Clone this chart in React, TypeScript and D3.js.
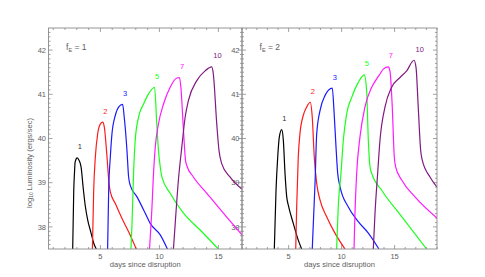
import React from "react";
import * as d3 from "d3";

type Pt = [number, number];

// panel f_E = 1 : [days since disruption, log10 L]
const fe1Curve1: Pt[] = [[2.65, 37.5], [2.74, 38.83], [2.8, 39.21], [2.86, 39.47], [3.03, 39.56], [3.16, 39.52], [3.36, 39.36], [3.53, 38.91], [3.73, 38.45], [3.92, 38.16], [4.21, 37.86], [4.45, 37.62], [4.65, 37.5]];
const fe1Curve2: Pt[] = [[4.32, 37.5], [4.43, 38.83], [4.57, 39.58], [4.77, 40.11], [5.0, 40.33], [5.19, 40.37], [5.33, 40.26], [5.56, 39.58], [5.73, 38.98], [5.84, 38.79], [6.26, 38.53], [6.83, 38.19], [7.39, 37.89], [8.04, 37.5]];
const fe1Curve3: Pt[] = [[5.61, 37.5], [5.7, 38.83], [5.84, 39.58], [5.98, 40.11], [6.26, 40.52], [6.54, 40.71], [6.88, 40.77], [7.02, 40.48], [7.25, 39.73], [7.39, 39.13], [7.53, 38.94], [8.1, 38.68], [8.8, 38.31], [9.22, 38.08], [10.07, 37.82], [10.68, 37.5]];
const fe1Curve5: Pt[] = [[7.59, 37.5], [7.68, 38.08], [7.81, 39.21], [7.95, 39.96], [8.23, 40.48], [8.66, 40.78], [9.08, 41.01], [9.59, 41.16], [9.79, 40.26], [9.92, 39.73], [10.07, 39.36], [10.21, 39.13], [10.91, 38.76], [12.04, 38.31], [13.45, 37.93], [15.0, 37.5]];
const fe1Curve7: Pt[] = [[9.16, 37.5], [9.37, 38.45], [9.5, 39.21], [9.65, 39.81], [9.92, 40.33], [10.35, 40.78], [10.91, 41.16], [11.48, 41.37], [11.7, 41.38], [11.82, 41.16], [12.04, 40.18], [12.21, 39.51], [12.32, 39.39], [12.88, 39.13], [14.02, 38.76], [15.42, 38.31], [17.0, 37.82]];
const fe1Curve10: Pt[] = [[11.19, 37.5], [11.34, 38.08], [11.61, 39.06], [11.9, 39.81], [12.18, 40.48], [12.46, 40.86], [13.17, 41.31], [13.87, 41.53], [14.44, 41.62], [14.57, 41.46], [14.86, 40.33], [15.05, 39.73], [15.28, 39.43], [15.98, 39.13], [17.0, 38.85]];

// panel f_E = 2
const fe2Curve1: Pt[] = [[3.65, 37.5], [3.81, 38.83], [3.97, 39.58], [4.12, 40.03], [4.35, 40.2], [4.5, 39.96], [4.66, 39.21], [4.82, 38.68], [4.97, 38.49], [5.44, 38.08], [5.91, 37.7], [6.23, 37.5]];
const fe2Curve2: Pt[] = [[5.67, 37.5], [5.76, 38.45], [5.91, 39.58], [6.07, 40.11], [6.38, 40.52], [6.7, 40.71], [7.04, 40.82], [7.23, 40.48], [7.42, 39.58], [7.65, 38.98], [7.96, 38.61], [8.59, 38.23], [9.37, 37.86], [10.32, 37.5]];
const fe2Curve3: Pt[] = [[7.23, 37.5], [7.49, 38.98], [7.65, 40.11], [7.96, 40.63], [8.43, 40.97], [9.12, 41.14], [9.28, 40.63], [9.47, 39.81], [9.63, 39.21], [9.85, 38.91], [10.63, 38.45], [11.57, 38.12], [12.52, 37.86], [13.52, 37.5]];
const fe2Curve5: Pt[] = [[9.53, 37.5], [9.68, 38.45], [9.94, 39.21], [10.16, 39.96], [10.48, 40.56], [10.95, 40.93], [11.57, 41.27], [12.14, 41.44], [12.36, 41.08], [12.52, 39.96], [12.68, 39.36], [12.84, 39.21], [13.78, 38.83], [15.67, 38.23], [18.02, 37.5]];
const fe2Curve7: Pt[] = [[11.17, 37.5], [11.26, 38.31], [11.42, 39.21], [11.73, 40.03], [12.2, 40.71], [12.84, 41.16], [13.31, 41.35], [13.62, 41.46], [13.93, 41.57], [14.4, 41.62], [14.56, 41.53], [14.78, 40.71], [14.97, 39.58], [15.1, 39.36], [15.67, 39.06], [16.92, 38.68], [19.0, 38.2]];
const fe2Curve10: Pt[] = [[12.99, 37.5], [13.15, 38.31], [13.4, 39.21], [13.62, 39.96], [14.09, 40.71], [14.72, 41.16], [15.51, 41.38], [16.14, 41.53], [16.83, 41.77], [17.02, 41.61], [17.23, 40.71], [17.46, 39.73], [17.61, 39.51], [18.34, 39.13], [19.0, 38.9]];

const curveLabels = ["1", "2", "3", "5", "7", "10"];
const curveColors = ["#000000", "#ff1a1a", "#1a1aff", "#1aff1a", "#ff1aff", "#801a80"];
const panelTitles = ["1", "2"];
const yTicks = [38, 39, 40, 41, 42];
const xTicks = [5, 10, 15];

const panels = [
  { fe: panelTitles[0], curves: [fe1Curve1, fe1Curve2, fe1Curve3, fe1Curve5, fe1Curve7, fe1Curve10], xMax: 17 },
  { fe: panelTitles[1], curves: [fe2Curve1, fe2Curve2, fe2Curve3, fe2Curve5, fe2Curve7, fe2Curve10], xMax: 19 },
];

const W = 485;
const H = 277;
const top = 28;
const bottom = 249;
const panelX = [[48.5, 242], [242, 437]];
const frameColor = "#8a8a8a";
const textColor = "#5e5e5e";
const font = "'Liberation Sans', Arial, sans-serif";

const App: React.FC = () => {
  const svgRef = React.useRef<SVGSVGElement>(null);

  React.useEffect(() => {
    const svgEl = d3.select(svgRef.current);
    svgEl.selectAll("*").remove();
    svgEl.attr("width", W).attr("height", H).attr("viewBox", `0 0 ${W} ${H}`);

    svgEl.append("rect").attr("width", W).attr("height", H).attr("fill", "white");

    const yScale = d3.scaleLinear().domain([37.5, 42.5]).range([bottom, top]);

    // y tick labels first, so curves of the left panel pass over the
    // right panel's labels like in the original
    panels.forEach((panel, pi) => {
      const [x0] = panelX[pi];
      yTicks.forEach((v) => {
        svgEl
          .append("text")
          .attr("x", x0 - 2.5)
          .attr("y", yScale(v) + 2.7)
          .attr("text-anchor", "end")
          .attr("font-size", 7.5)
          .attr("font-family", font)
          .attr("fill", textColor)
          .text(v);
      });
    });

    panels.forEach((panel, pi) => {
      const [x0, x1] = panelX[pi];
      const xScale = d3.scaleLinear().domain([0.6, panel.xMax]).range([x0, x1]);
      const g = svgEl.append("g").attr("id", `panel_${pi}`);

      // clip
      const clipId = `clip_${pi}`;
      svgEl
        .append("clipPath")
        .attr("id", clipId)
        .append("rect")
        .attr("x", x0)
        .attr("y", top)
        .attr("width", x1 - x0)
        .attr("height", bottom - top);

      // y minor / major ticks on both vertical edges
      const yMinor = d3.range(376, 425).map((v) => v / 10);
      const tickG = g.append("g").attr("stroke", frameColor).attr("stroke-width", 0.8);
      yMinor.forEach((v) => {
        const major = Math.abs(v - Math.round(v)) < 1e-6;
        const len = major ? 4 : 2;
        const y = yScale(v);
        tickG.append("line").attr("x1", x0).attr("x2", x0 + len).attr("y1", y).attr("y2", y);
        tickG.append("line").attr("x1", x1).attr("x2", x1 - len).attr("y1", y).attr("y2", y);
      });
      d3.range(1, Math.floor(panel.xMax) + 1).forEach((d) => {
        const major = d % 5 === 0;
        const len = major ? 4 : 2;
        const x = xScale(d);
        tickG.append("line").attr("x1", x).attr("x2", x).attr("y1", bottom).attr("y2", bottom - len);
        tickG.append("line").attr("x1", x).attr("x2", x).attr("y1", top).attr("y2", top + len);
      });

      // curves
      const lineDef = d3
        .line<Pt>()
        .x((d) => xScale(d[0]))
        .y((d) => yScale(d[1]))
        .curve(d3.curveMonotoneX);

      const curveG = g.append("g").attr("clip-path", `url(#${clipId})`);
      panel.curves.forEach((c, ci) => {
        curveG
          .append("path")
          .attr("d", lineDef(c))
          .attr("fill", "none")
          .attr("stroke", curveColors[ci])
          .attr("stroke-width", 1.2)
          .attr("stroke-linejoin", "round");
      });

      // curve labels above peaks
      panel.curves.forEach((c, ci) => {
        const peak = c.reduce((a, b) => (b[1] > a[1] ? b : a));
        g.append("text")
          .attr("x", xScale(peak[0]) + (curveLabels[ci].length > 1 ? 1.5 : 0.5))
          .attr("y", yScale(peak[1]) - 8.5)
          .attr("font-size", 7.5)
          .attr("font-family", font)
          .attr("fill", ci === 0 ? "#333" : curveColors[ci])
          .text(curveLabels[ci]);
      });

      // frame
      g.append("rect")
        .attr("x", x0)
        .attr("y", top)
        .attr("width", x1 - x0)
        .attr("height", bottom - top)
        .attr("fill", "none")
        .attr("stroke", frameColor)
        .attr("stroke-width", 0.9);

      // x tick labels
      xTicks.forEach((v) => {
        g.append("text")
          .attr("x", xScale(v))
          .attr("y", 258.5)
          .attr("text-anchor", "middle")
          .attr("font-size", 7.5)
          .attr("font-family", font)
          .attr("fill", textColor)
          .text(v);
      });

      // x title
      g.append("text")
        .attr("x", (x0 + x1) / 2)
        .attr("y", 267)
        .attr("text-anchor", "middle")
        .attr("font-size", 7.6)
        .attr("font-family", font)
        .attr("fill", textColor)
        .text("days since disruption");

      // f_E label
      const fe = g
        .append("text")
        .attr("x", x0 + 17.5)
        .attr("y", 50)
        .attr("font-size", 8.5)
        .attr("font-family", font)
        .attr("fill", textColor);
      fe.append("tspan").text("f");
      fe.append("tspan").attr("font-size", 5.5).attr("dy", 2).text("E");
      fe.append("tspan").attr("dy", -2).text(` = ${panel.fe}`);
    });

    // y title
    const yt = svgEl
      .append("text")
      .attr("transform", `translate(31.5,163) rotate(-90)`)
      .attr("text-anchor", "middle")
      .attr("font-size", 7.6)
      .attr("font-family", font)
      .attr("fill", textColor);
    yt.append("tspan").text("log");
    yt.append("tspan").attr("font-size", 5).attr("dy", 1.8).text("10");
    yt.append("tspan").attr("dy", -1.8).text(" Luminosity (ergs/sec)");
  }, []);

  return (
    <svg
      ref={svgRef}
      style={{ position: "absolute", left: 0, top: 0, display: "block" }}
    />
  );
};

export default App;
